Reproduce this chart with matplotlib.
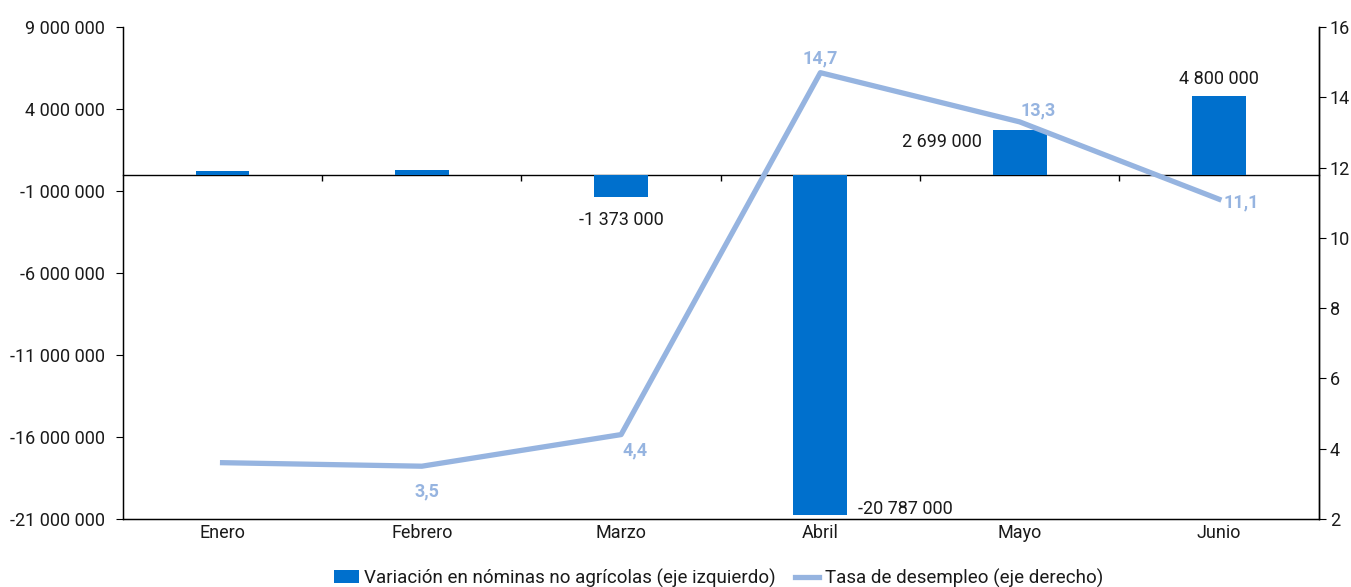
import matplotlib.pyplot as plt
import numpy as np
from matplotlib.ticker import FuncFormatter

plt.rcParams['font.family'] = ['Roboto', 'DejaVu Sans']
plt.rcParams['font.size'] = 13
plt.rcParams['text.color'] = '#1a1a1a'
plt.rcParams['xtick.labelcolor'] = '#1a1a1a'
plt.rcParams['ytick.labelcolor'] = '#1a1a1a'

# nonfarm payroll change and unemployment rate, Jan-Jun
meses = ['Enero', 'Febrero', 'Marzo', 'Abril', 'Mayo', 'Junio']
nominas = [225000, 273000, -1373000, -20787000, 2699000, 4800000]
desempleo = [3.6, 3.5, 4.4, 14.7, 13.3, 11.1]

bar_color = '#0070CD'
line_color = '#96B4E0'

def miles(v, pos=None):
    return f'{v:,.0f}'.replace(',', ' ')

fig = plt.figure(figsize=(13.51, 5.87), dpi=100)
ax = fig.add_axes([0.091, 0.116, 0.885, 0.838])
x = np.arange(len(meses))

bars = ax.bar(x, nominas, width=0.27, color=bar_color, zorder=2)
ax.set_xlim(-0.5, len(meses) - 0.5)
ax.set_ylim(-21000000, 9000000)
ax.set_yticks(np.arange(-21000000, 9000001, 5000000))
ax.yaxis.set_major_formatter(FuncFormatter(miles))
ax.set_xticks(x, meses)
ax.tick_params(axis='x', length=0, pad=4)
ax.tick_params(axis='y', direction='out', length=5, pad=8)
ax.spines['top'].set_visible(False)
for s in ['left', 'bottom', 'right']:
    ax.spines[s].set_linewidth(1)

# zero line with category separators
cero = ax.secondary_xaxis(0, transform=ax.transData)
cero.set_xticks(x[:-1] + 0.5, labels=[])
cero.tick_params(direction='out', length=4, width=1)
cero.spines['bottom'].set_linewidth(1)

# bar labels
ax.annotate(miles(nominas[2]), (x[2], nominas[2]), xytext=(0, -10),
            textcoords='offset points', ha='center', va='top')
ax.annotate(miles(nominas[3]), (x[3], nominas[3]), xytext=(27, -2),
            textcoords='offset points', ha='left', va='bottom')
ax.annotate(miles(nominas[4]), (x[4], nominas[4]), xytext=(-27, -2),
            textcoords='offset points', ha='right', va='top')
ax.annotate(miles(nominas[5]), (x[5], nominas[5]), xytext=(0, 6),
            textcoords='offset points', ha='center', va='bottom')

ax2 = ax.twinx()
ax2.set_ylim(2, 16)
ax2.set_yticks(np.arange(2, 17, 2))
ax2.tick_params(axis='y', direction='out', length=5, pad=3)
ax2.spines['top'].set_visible(False)
ax2.spines['right'].set_linewidth(1)
ax2.plot(x, desempleo, color=line_color, lw=3.8, zorder=3)

offsets = {1: (4, -12, 'center', 'top'),
           2: (10, -5, 'center', 'top'),
           3: (0, 4, 'center', 'bottom'),
           4: (13, 2, 'center', 'bottom'),
           5: (16, -2, 'center', 'center')}
for i, (dx, dy, ha, va) in offsets.items():
    ax2.annotate(f'{desempleo[i]:.1f}'.replace('.', ','), (x[i], desempleo[i]),
                 xytext=(dx, dy), textcoords='offset points', ha=ha, va=va,
                 color=line_color, fontweight='bold')

linea, = ax2.plot([], [], color=line_color, lw=3.8)
fig.legend([bars, linea],
           ['Variación en nóminas no agrícolas (eje izquierdo)',
            'Tasa de desempleo (eje derecho)'],
           loc='lower center', bbox_to_anchor=(0.532, -0.03), ncol=2,
           frameon=False, handlelength=1.3, columnspacing=1.0,
           handletextpad=0.3, fontsize=13.5)

fig.savefig('out.png', dpi=100)
